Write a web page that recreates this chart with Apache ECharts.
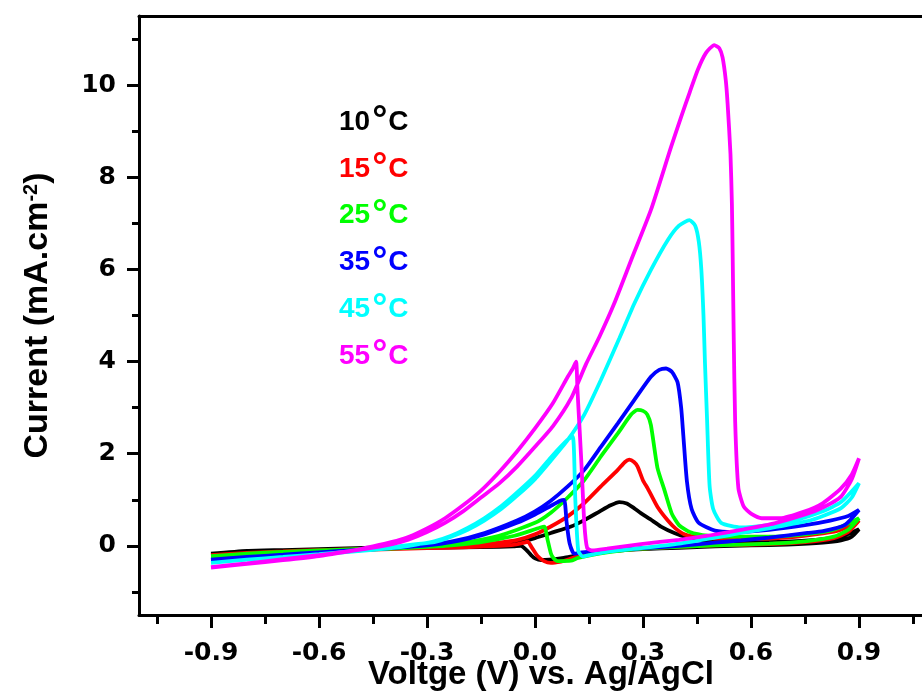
<!DOCTYPE html>
<html>
<head>
<meta charset="utf-8">
<script src="https://cdn.jsdelivr.net/npm/echarts@6/dist/echarts.min.js"></script>
<style>
html,body{margin:0;padding:0;background:#fff;}
#chart{width:922px;height:692px;}
</style>
</head>
<body>
<div id="chart"></div>
<script>
// Temperatures (legend labels)
const temperatures = ['10°C', '15°C', '25°C', '35°C', '45°C', '55°C'];
const colors = ['#000000', '#ff0000', '#00ff00', '#0000ff', '#00ffff', '#ff00ff'];

// X tick labels (V) and Y tick labels (mA/cm2)
const xMajorTicks = [-0.9, -0.6, -0.3, 0.0, 0.3, 0.6, 0.9];
const xMinorTicks = [-1.05, -0.75, -0.45, -0.15, 0.15, 0.45, 0.75, 1.05];
const yMajorTicks = [0, 2, 4, 6, 8, 10];
const yMinorTicks = [-1, 1, 3, 5, 7, 9, 11];

// 10 °C : [potential V, current mA/cm2]
const t10Forward = [[-0.9,-0.17],[-0.8,-0.11],[-0.7,-0.09],[-0.6,-0.07],[-0.5,-0.05],[-0.4,-0.03],[-0.3,-0.02],[-0.2,0.0],[-0.1,0.04],[-0.05,0.08],[0.0,0.17],[0.044,0.28],[0.1,0.42],[0.137,0.56],[0.18,0.75],[0.21,0.88],[0.234,0.95],[0.255,0.92],[0.275,0.82],[0.294,0.71],[0.32,0.58],[0.35,0.42],[0.387,0.28],[0.424,0.18],[0.461,0.13],[0.5,0.1],[0.6,0.08],[0.7,0.09],[0.78,0.13],[0.85,0.2],[0.9,0.36]];
const t10Reverse = [[0.9,0.36],[0.88,0.2],[0.85,0.12],[0.8,0.07],[0.7,0.03],[0.6,0.01],[0.5,-0.01],[0.4,-0.04],[0.3,-0.07],[0.2,-0.12],[0.12,-0.2],[0.08,-0.26],[0.04,-0.3],[0.017,-0.31],[0.0,-0.27],[-0.011,-0.2],[-0.025,-0.08],[-0.039,0.0],[-0.06,-0.01],[-0.1,-0.02],[-0.2,-0.03],[-0.3,-0.04],[-0.4,-0.05],[-0.5,-0.07],[-0.6,-0.09],[-0.7,-0.11],[-0.8,-0.14],[-0.9,-0.18]];

// 15 °C
const t15Forward = [[-0.9,-0.2],[-0.8,-0.15],[-0.7,-0.12],[-0.6,-0.09],[-0.5,-0.07],[-0.4,-0.05],[-0.3,-0.03],[-0.2,0.0],[-0.1,0.07],[-0.048,0.13],[0.0,0.25],[0.044,0.42],[0.091,0.64],[0.137,0.93],[0.183,1.29],[0.23,1.65],[0.25,1.82],[0.262,1.87],[0.275,1.82],[0.285,1.72],[0.3,1.42],[0.313,1.25],[0.34,0.85],[0.369,0.55],[0.39,0.38],[0.415,0.25],[0.45,0.19],[0.5,0.16],[0.6,0.15],[0.7,0.18],[0.8,0.27],[0.85,0.35],[0.9,0.55]];
const t15Reverse = [[0.9,0.55],[0.87,0.3],[0.83,0.17],[0.75,0.08],[0.65,0.04],[0.5,0.01],[0.4,-0.02],[0.3,-0.06],[0.2,-0.12],[0.128,-0.2],[0.09,-0.3],[0.072,-0.34],[0.044,-0.37],[0.025,-0.33],[0.007,-0.22],[-0.01,-0.02],[-0.02,0.09],[-0.035,0.06],[-0.06,0.02],[-0.1,0.0],[-0.2,-0.03],[-0.3,-0.05],[-0.4,-0.07],[-0.5,-0.09],[-0.6,-0.11],[-0.7,-0.14],[-0.8,-0.17],[-0.9,-0.21]];

// 25 °C
const t25Forward = [[-0.9,-0.22],[-0.8,-0.17],[-0.7,-0.13],[-0.6,-0.1],[-0.5,-0.07],[-0.4,-0.04],[-0.3,0.0],[-0.2,0.07],[-0.1,0.22],[0.0,0.5],[0.044,0.72],[0.091,1.05],[0.137,1.43],[0.183,1.94],[0.23,2.44],[0.267,2.85],[0.285,2.95],[0.3,2.93],[0.312,2.85],[0.322,2.62],[0.34,1.7],[0.36,1.2],[0.38,0.7],[0.4,0.45],[0.43,0.3],[0.48,0.22],[0.55,0.2],[0.65,0.2],[0.75,0.25],[0.83,0.35],[0.9,0.6]];
const t25Reverse = [[0.9,0.6],[0.87,0.35],[0.83,0.2],[0.75,0.1],[0.65,0.05],[0.5,0.01],[0.4,-0.02],[0.3,-0.06],[0.2,-0.14],[0.12,-0.26],[0.1,-0.32],[0.063,-0.33],[0.05,-0.25],[0.044,-0.16],[0.035,0.13],[0.026,0.42],[0.015,0.4],[0.0,0.36],[-0.057,0.22],[-0.15,0.08],[-0.25,0.0],[-0.3,-0.02],[-0.4,-0.06],[-0.5,-0.09],[-0.6,-0.12],[-0.7,-0.15],[-0.8,-0.19],[-0.9,-0.23]];

// 35 °C
const t35Forward = [[-0.9,-0.3],[-0.8,-0.24],[-0.7,-0.19],[-0.6,-0.14],[-0.5,-0.09],[-0.4,-0.04],[-0.3,0.03],[-0.233,0.09],[-0.14,0.28],[-0.05,0.55],[0.0,0.75],[0.044,0.98],[0.091,1.29],[0.137,1.65],[0.183,2.15],[0.23,2.66],[0.276,3.17],[0.322,3.67],[0.345,3.82],[0.364,3.85],[0.38,3.78],[0.396,3.55],[0.406,3.0],[0.412,2.4],[0.422,1.4],[0.435,0.8],[0.455,0.5],[0.5,0.33],[0.55,0.3],[0.65,0.35],[0.75,0.45],[0.82,0.55],[0.87,0.65],[0.9,0.78]];
const t35Reverse = [[0.9,0.78],[0.86,0.45],[0.8,0.32],[0.757,0.28],[0.65,0.18],[0.572,0.12],[0.5,0.07],[0.4,0.0],[0.3,-0.05],[0.2,-0.1],[0.13,-0.14],[0.109,-0.17],[0.096,0.06],[0.088,0.5],[0.081,1.0],[0.07,0.98],[0.04,0.85],[0.0,0.68],[-0.05,0.5],[-0.14,0.25],[-0.233,0.08],[-0.3,0.01],[-0.4,-0.05],[-0.5,-0.1],[-0.6,-0.15],[-0.7,-0.2],[-0.8,-0.25],[-0.9,-0.31]];

// 45 °C
const t45Forward = [[-0.9,-0.37],[-0.8,-0.3],[-0.7,-0.24],[-0.6,-0.18],[-0.5,-0.11],[-0.4,-0.03],[-0.33,0.04],[-0.28,0.08],[-0.233,0.2],[-0.187,0.35],[-0.141,0.55],[-0.094,0.8],[-0.048,1.1],[0.0,1.45],[0.044,1.85],[0.091,2.3],[0.137,2.85],[0.183,3.6],[0.234,4.5],[0.276,5.26],[0.322,5.99],[0.369,6.64],[0.4,6.95],[0.429,7.07],[0.445,6.95],[0.455,6.6],[0.462,6.0],[0.468,5.0],[0.472,4.0],[0.478,2.73],[0.485,1.3],[0.495,0.8],[0.517,0.5],[0.572,0.4],[0.65,0.45],[0.711,0.53],[0.8,0.75],[0.85,0.95],[0.9,1.36]];
const t45Reverse = [[0.9,1.36],[0.88,1.05],[0.85,0.82],[0.8,0.65],[0.757,0.54],[0.65,0.38],[0.572,0.28],[0.5,0.18],[0.4,0.05],[0.294,-0.05],[0.2,-0.13],[0.15,-0.2],[0.132,-0.23],[0.12,-0.1],[0.112,1.0],[0.105,2.37],[0.09,2.3],[0.044,1.92],[0.0,1.52],[-0.048,1.17],[-0.094,0.86],[-0.141,0.6],[-0.187,0.39],[-0.233,0.22],[-0.28,0.1],[-0.35,0.0],[-0.4,-0.05],[-0.5,-0.12],[-0.6,-0.18],[-0.7,-0.24],[-0.8,-0.3],[-0.9,-0.37]];

// 55 °C
const t55Forward = [[-0.9,-0.47],[-0.8,-0.39],[-0.7,-0.31],[-0.6,-0.22],[-0.5,-0.1],[-0.45,-0.04],[-0.4,0.03],[-0.35,0.14],[-0.3,0.3],[-0.25,0.5],[-0.2,0.75],[-0.15,1.05],[-0.1,1.35],[-0.05,1.72],[0.0,2.15],[0.05,2.6],[0.1,3.2],[0.142,3.95],[0.179,4.54],[0.22,5.26],[0.267,6.2],[0.322,7.29],[0.378,8.66],[0.406,9.31],[0.43,9.85],[0.452,10.33],[0.475,10.7],[0.498,10.87],[0.512,10.8],[0.521,10.6],[0.53,10.1],[0.535,9.6],[0.543,8.5],[0.547,7.4],[0.549,6.35],[0.552,4.54],[0.556,2.7],[0.565,1.25],[0.58,0.85],[0.6,0.7],[0.63,0.6],[0.68,0.6],[0.75,0.75],[0.8,0.93],[0.85,1.25],[0.88,1.55],[0.9,1.9]];
const t55Reverse = [[0.9,1.9],[0.88,1.45],[0.85,1.07],[0.804,0.85],[0.75,0.68],[0.665,0.49],[0.58,0.36],[0.48,0.22],[0.4,0.13],[0.294,0.04],[0.2,-0.06],[0.16,-0.1],[0.145,-0.05],[0.137,0.49],[0.128,1.94],[0.118,3.38],[0.114,4.0],[0.105,3.85],[0.091,3.67],[0.05,3.1],[0.0,2.55],[-0.05,2.05],[-0.1,1.6],[-0.15,1.2],[-0.2,0.88],[-0.25,0.6],[-0.3,0.38],[-0.35,0.2],[-0.4,0.08],[-0.45,-0.01],[-0.5,-0.09],[-0.6,-0.2],[-0.7,-0.29],[-0.8,-0.38],[-0.9,-0.46]];

const forwardScans = [t10Forward, t15Forward, t25Forward, t35Forward, t45Forward, t55Forward];
const reverseScans = [t10Reverse, t15Reverse, t25Reverse, t35Reverse, t45Reverse, t55Reverse];

const FONT = '"Liberation Sans", Arial, sans-serif';
const TICK_FONT = '"DejaVu Sans", Verdana, sans-serif';
const X_MIN = -1.1, X_MAX = 1.1, Y_MIN = -1.5, Y_MAX = 11.5;

const chart = echarts.init(document.getElementById('chart'), null, {renderer: 'canvas'});

const series = temperatures.map((name, i) => ({
  name: name,
  type: 'line',
  xAxisIndex: 0,
  yAxisIndex: 0,
  data: forwardScans[i].concat(reverseScans[i].slice(1)),
  showSymbol: false,
  symbol: 'none',
  smooth: 0.2,
  lineStyle: {color: colors[i], width: 3.8},
  itemStyle: {color: colors[i]},
  z: 2 + i,
  silent: true
}));

const hiddenAxisBase = {
  axisLabel: {show: false},
  splitLine: {show: false}
};

const option = {
  animation: false,
  backgroundColor: '#ffffff',
  grid: {
    left: 139, top: 16, width: 792, height: 599,
    show: false, containLabel: false, outerBoundsMode: 'none'
  },
  legend: {
    orient: 'vertical',
    left: 329,
    top: 98,
    itemWidth: 0,
    itemHeight: 0,
    itemGap: 8.8,
    icon: 'rect',
    selectedMode: false,
    data: temperatures.map((t, i) => ({name: t, textStyle: {color: colors[i]}})),
    formatter: name => '{n|' + name.replace('°C', '') + '}{d|°}{n|C}',
    textStyle: {
      fontFamily: FONT,
      fontWeight: 'bold',
      fontSize: 28,
      rich: {
        n: {fontFamily: FONT, fontWeight: 'bold', fontSize: 28, lineHeight: 30, verticalAlign: 'middle'},
        d: {fontFamily: FONT, fontWeight: 'bold', fontSize: 38, lineHeight: 30, verticalAlign: 'middle', padding: [0, 1, 0, 2]}
      }
    }
  },
  xAxis: [
    {
      type: 'value', min: X_MIN, max: X_MAX, position: 'bottom',
      name: 'Voltge (V) vs. Ag/AgCl', nameLocation: 'middle', nameGap: 43, nameMoveOverlap: false,
      nameTextStyle: {fontFamily: FONT, fontWeight: 'bold', fontSize: 33, color: '#000', padding: [0, 0, 0, 12]},
      axisLine: {show: true, onZero: false, lineStyle: {color: '#000', width: 3}},
      axisTick: {show: true, inside: false, length: 13, lineStyle: {color: '#000', width: 3}, customValues: xMajorTicks},
      axisLabel: {show: true, customValues: xMajorTicks, margin: 26, formatter: v => v.toFixed(1),
        fontFamily: TICK_FONT, fontWeight: 'bold', fontSize: 25, color: '#000'},
      splitLine: {show: false}
    },
    Object.assign({
      type: 'value', min: X_MIN, max: X_MAX, position: 'bottom',
      axisLine: {show: false, onZero: false},
      axisTick: {show: true, inside: false, length: 9, lineStyle: {color: '#000', width: 3}, customValues: xMinorTicks}
    }, hiddenAxisBase),
    Object.assign({
      type: 'value', min: X_MIN, max: X_MAX, position: 'top',
      axisLine: {show: true, onZero: false, lineStyle: {color: '#000', width: 3}},
      axisTick: {show: false}
    }, hiddenAxisBase)
  ],
  yAxis: [
    {
      type: 'value', min: Y_MIN, max: Y_MAX, position: 'left',
      name: 'Current (mA.cm{s|-2})', nameLocation: 'middle', nameGap: 84, nameMoveOverlap: false,
      nameTextStyle: {fontFamily: FONT, fontWeight: 'bold', fontSize: 34, color: '#000',
        rich: {s: {fontFamily: FONT, fontWeight: 'bold', fontSize: 20, verticalAlign: 'top', color: '#000'}}},
      axisLine: {show: true, onZero: false, lineStyle: {color: '#000', width: 3}},
      axisTick: {show: true, inside: false, length: 12, lineStyle: {color: '#000', width: 3}, customValues: yMajorTicks},
      axisLabel: {show: true, customValues: yMajorTicks, margin: 23,
        fontFamily: TICK_FONT, fontWeight: 'bold', fontSize: 25, color: '#000'},
      splitLine: {show: false}
    },
    Object.assign({
      type: 'value', min: Y_MIN, max: Y_MAX, position: 'left',
      axisLine: {show: false, onZero: false},
      axisTick: {show: true, inside: false, length: 7, lineStyle: {color: '#000', width: 3}, customValues: yMinorTicks}
    }, hiddenAxisBase)
  ],
  series: series
};

chart.setOption(option);
</script>
</body>
</html>
